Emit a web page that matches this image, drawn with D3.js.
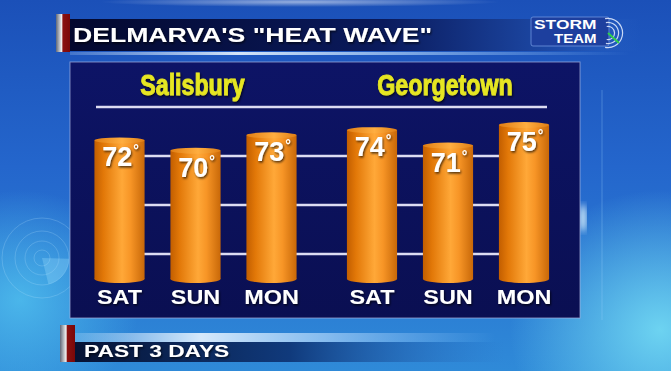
<!DOCTYPE html>
<html>
<head>
<meta charset="utf-8">
<script src="https://cdn.jsdelivr.net/npm/d3@7"></script>
<style>
  html, body { margin: 0; padding: 0; background: #1d5cc0; overflow: hidden }
  text { font-family: 'Liberation Sans', Arial, sans-serif; font-weight: bold }
</style>
</head>
<body>
<svg id="chart"></svg>
<script>
const title = 'DELMARVA\'S "HEAT WAVE"'
const footer = 'PAST 3 DAYS'
const cities = ['Salisbury', 'Georgetown']
const days = ['SAT', 'SUN', 'MON']
const salisbury = [72, 70, 73]
const georgetown = [74, 71, 75]
const gridRows = [1, 2, 3, 4]

const width = 671
const height = 371

const rows = cities.flatMap((c, i) => days.map((d, j) => ({
  city: c, day: d, value: [salisbury, georgetown][i][j]
})))

const svg = d3.select('#chart').attr('width', width).attr('height', height)
const defs = svg.append('defs')

function linear (id, stops, x2 = '100%', y2 = '0%') {
  const g = defs.append('linearGradient').attr('id', id)
    .attr('x1', '0%').attr('y1', '0%').attr('x2', x2).attr('y2', y2)
  stops.forEach(s => g.append('stop').attr('offset', s[0]).attr('stop-color', s[1]).attr('stop-opacity', s[2] ?? 1))
}
function radial (id, color, op) {
  const g = defs.append('radialGradient').attr('id', id)
  g.append('stop').attr('offset', '0%').attr('stop-color', color).attr('stop-opacity', op)
  g.append('stop').attr('offset', '100%').attr('stop-color', color).attr('stop-opacity', 0)
}

linear('bg', [['0%', '#1b50b8'], ['45%', '#2466cc'], ['100%', '#2f8ad8']], '0%', '100%')
radial('glowL', '#52c4f0', 0.8)
radial('glowR', '#74dcf4', 0.9)
radial('glowW', '#ffffff', 0.9)
linear('banner', [['0%', '#03082e'], ['55%', '#0a1a5c'], ['85%', '#1d4aa8'], ['100%', '#2a62c4', 0]])
linear('foot', [['0%', '#061233'], ['50%', '#103a7c'], ['100%', '#2a6cc0', 0]])
linear('streak', [['0%', '#d8ecff', 0.2], ['30%', '#e8f4ff', 0.9], ['60%', '#bfe0ff', 0.6], ['100%', '#9fd0ff', 0]])
linear('accent', [['0%', '#606878'], ['40%', '#f0f0f0'], ['50%', '#8a1010'], ['100%', '#7a0808']])
linear('panel', [['0%', '#0d1466'], ['100%', '#0a0f52']], '0%', '100%')
linear('barGrad', [['0%', '#c25e00'], ['18%', '#e27808'], ['55%', '#ffa838'], ['72%', '#f79526'], ['100%', '#c86808']])
linear('barTop', [['0%', '#e07e14'], ['55%', '#ffae40'], ['100%', '#e07e14']])

const shadow = defs.append('filter').attr('id', 'shadow')
  .attr('x', '-10%').attr('y', '-10%').attr('width', '130%').attr('height', '140%')
shadow.append('feDropShadow').attr('dx', 1).attr('dy', 1.5)
  .attr('stdDeviation', 1).attr('flood-color', '#000').attr('flood-opacity', 0.7)
defs.append('filter').attr('id', 'blur').append('feGaussianBlur').attr('stdDeviation', 3)

// background
svg.append('rect').attr('width', width).attr('height', height).attr('fill', 'url(#bg)')
svg.append('ellipse').attr('cx', 20).attr('cy', 300).attr('rx', 120).attr('ry', 110).attr('fill', 'url(#glowL)')
svg.append('ellipse').attr('cx', 660).attr('cy', 330).attr('rx', 150).attr('ry', 140).attr('fill', 'url(#glowR)')
svg.append('ellipse').attr('cx', 300).attr('cy', 2).attr('rx', 200).attr('ry', 5).attr('fill', 'url(#glowW)').attr('opacity', 0.6)
svg.append('ellipse').attr('cx', 583).attr('cy', 218).attr('rx', 3).attr('ry', 14).attr('fill', '#e8fbff').attr('filter', 'url(#blur)')
svg.append('line').attr('x1', 602).attr('x2', 602).attr('y1', 90).attr('y2', 320)
  .attr('stroke', '#9fd8ff').attr('stroke-opacity', 0.3)

// faint radar decoration on the left
const radar = svg.append('g').attr('transform', 'translate(42,258)')
  .attr('fill', 'none').attr('stroke', '#bfe8ff').attr('stroke-opacity', 0.22)
;[8, 17, 27, 40].forEach(r => radar.append('circle').attr('r', r))
radar.append('path').attr('d', d3.arc()({ innerRadius: 0, outerRadius: 27, startAngle: 1.6, endAngle: 2.9 }))
  .attr('fill', '#9fe0ff').attr('fill-opacity', 0.3).attr('stroke', 'none')

// title banner
svg.append('rect').attr('x', 70).attr('y', 19).attr('width', 570).attr('height', 32).attr('fill', 'url(#banner)')
svg.append('rect').attr('x', 70).attr('y', 52).attr('width', 560).attr('height', 3).attr('fill', 'url(#streak)')
svg.append('rect').attr('x', 56).attr('y', 14).attr('width', 14).attr('height', 38).attr('fill', 'url(#accent)')

function stretch (sel, k) {
  sel.each(function () {
    const len = this.getComputedTextLength()
    d3.select(this).attr('textLength', len * k).attr('lengthAdjust', 'spacingAndGlyphs')
  })
}

svg.append('text').attr('x', 73).attr('y', 42).attr('font-size', 20).attr('fill', '#fff')
  .attr('filter', 'url(#shadow)').text(title).call(stretch, 1.33)

// storm team logo
const logo = svg.append('g')
logo.append('rect').attr('x', 531).attr('y', 17).attr('width', 78).attr('height', 29).attr('rx', 2)
  .attr('fill', '#1d3f9e').attr('stroke', '#6f95e0').attr('stroke-width', 0.8)
;[6, 10, 14].forEach(r => logo.append('path')
  .attr('transform', 'translate(608,33)')
  .attr('d', d3.arc()({ innerRadius: r, outerRadius: r + 1.2, startAngle: -0.2, endAngle: Math.PI + 0.2 }))
  .attr('fill', '#e8f0ff').attr('opacity', 0.85))
logo.append('line').attr('x1', 608).attr('y1', 33).attr('x2', 619).attr('y2', 43)
  .attr('stroke', '#2fd04a').attr('stroke-width', 2)
logo.append('text').attr('x', 534).attr('y', 29).attr('font-size', 12).attr('fill', '#fff')
  .text('STORM').call(stretch, 1.45)
logo.append('text').attr('x', 554).attr('y', 43).attr('font-size', 12).attr('fill', '#fff')
  .text('TEAM').call(stretch, 1.25)

// chart panel
svg.append('rect').attr('x', 70).attr('y', 62).attr('width', 510).attr('height', 256)
  .attr('fill', 'url(#panel)').attr('stroke', '#aab4e0').attr('stroke-opacity', 0.7)

const x0 = d3.scaleBand().domain(cities).range([81.5, 562]).paddingInner(0.097)
const x1 = d3.scaleBand().domain(days).range([0, x0.bandwidth()]).paddingInner(0.34).paddingOuter(0.17)
const y = d3.scaleLinear().domain([45, 75]).range([279, 125])
const yGrid = d3.scaleLinear().domain([0, 4]).range([303, 107])

svg.append('g').selectAll('line').data(gridRows).enter().append('line')
  .attr('x1', 96).attr('x2', 547)
  .attr('y1', d => yGrid(d)).attr('y2', d => yGrid(d))
  .attr('stroke', '#dcdcf2').attr('stroke-width', 2.5)

svg.append('g').selectAll('text').data(cities).enter().append('text')
  .attr('x', d => x0(d) + x0.bandwidth() / 2 - 3)
  .attr('y', 95)
  .attr('text-anchor', 'middle')
  .attr('font-size', 29)
  .attr('fill', '#e6e622')
  .attr('stroke', '#e6e622')
  .attr('stroke-width', 0.9)
  .attr('filter', 'url(#shadow)')
  .text(d => d)
  .call(stretch, 0.8)

const cx = d => x0(d.city) + x1(d.day) + x1.bandwidth() / 2
const bw = x1.bandwidth()
const base = y(45)

const bars = svg.append('g').selectAll('g').data(rows).enter().append('g')
bars.append('rect')
  .attr('x', d => cx(d) - bw / 2).attr('y', d => y(d.value))
  .attr('width', bw).attr('height', d => base - y(d.value))
  .attr('fill', 'url(#barGrad)')
bars.append('ellipse')
  .attr('cx', cx).attr('cy', base).attr('rx', bw / 2).attr('ry', 4)
  .attr('fill', 'url(#barGrad)')
bars.append('ellipse')
  .attr('cx', cx).attr('cy', d => y(d.value)).attr('rx', bw / 2).attr('ry', 3)
  .attr('fill', 'url(#barTop)')

const vals = bars.append('text')
  .attr('x', d => cx(d) + 1).attr('y', d => y(d.value) + 26)
  .attr('text-anchor', 'middle')
  .attr('font-size', 27)
  .attr('fill', '#fff')
  .attr('filter', 'url(#shadow)')
vals.append('tspan').text(d => d.value)
vals.append('tspan').attr('font-size', 14).attr('dx', 1).attr('dy', -11).text('°')

bars.append('text')
  .attr('x', cx).attr('y', 304)
  .attr('text-anchor', 'middle')
  .attr('font-size', 19.5)
  .attr('fill', '#fff')
  .attr('filter', 'url(#shadow)')
  .text(d => d.day)
  .call(stretch, 1.2)

// footer
svg.append('rect').attr('x', 75).attr('y', 333).attr('width', 420).attr('height', 9).attr('fill', 'url(#streak)')
svg.append('rect').attr('x', 75).attr('y', 342).attr('width', 430).attr('height', 20).attr('fill', 'url(#foot)')
svg.append('rect').attr('x', 60).attr('y', 325).attr('width', 15).attr('height', 37).attr('fill', 'url(#accent)')
svg.append('text').attr('x', 84).attr('y', 357).attr('font-size', 16).attr('fill', '#fff')
  .attr('filter', 'url(#shadow)').text(footer).call(stretch, 1.42)
</script>
</body>
</html>
